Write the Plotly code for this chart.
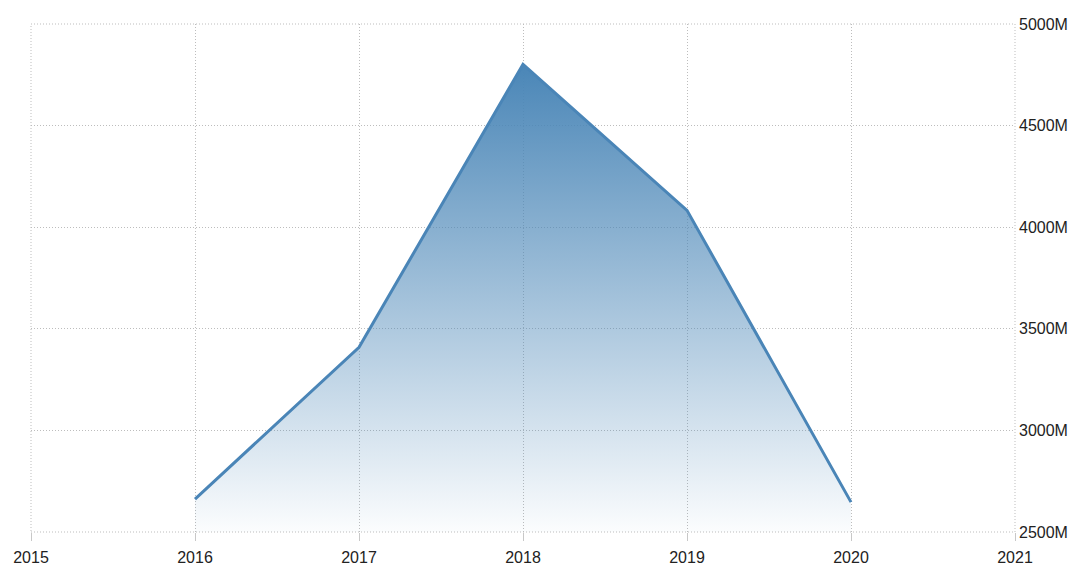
import plotly.graph_objects as go

years = [2016, 2017, 2018, 2019, 2020]
values = [2662, 3409, 4801, 4083, 2647]
baseline = [2500, 2500, 2500, 2500, 2500]
x_ticks = [2015, 2016, 2017, 2018, 2019, 2020, 2021]
y_ticks = [2500, 3000, 3500, 4000, 4500, 5000]
y_labels = [f"{v}M" for v in y_ticks]

font_family = "Liberation Sans Narrow, Arial Narrow, Liberation Sans, Arial, sans-serif"
grid_color = "#bdbdbd"
grid_dash = "1px,2px"

fig = go.Figure()
fig.add_trace(go.Scatter(x=years, y=baseline, mode="lines", line=dict(width=0),
                         hoverinfo="skip", showlegend=False))
fig.add_trace(go.Scatter(
    x=years, y=values, mode="lines", fill="tonexty",
    line=dict(color="#4a85b7", width=3),
    fillgradient=dict(type="vertical", start=2500, stop=4801,
                      colorscale=[[0, "rgba(74,134,183,0.02)"], [1, "rgba(74,134,183,1)"]]),
    showlegend=False))

# dotted frame on the plot edges (edge gridlines)
fig.add_shape(type="rect", xref="x domain", yref="y domain", x0=0, x1=1, y0=0, y1=1,
              line=dict(color=grid_color, width=1, dash=grid_dash), layer="below")

fig.update_layout(
    width=1062, height=559,
    margin=dict(l=23, r=55, t=16, b=35),
    paper_bgcolor="white", plot_bgcolor="white",
    font=dict(family=font_family, size=16, color="#222"),
    xaxis=dict(range=[2015, 2021], tickvals=x_ticks, ticktext=[str(v) for v in x_ticks],
               showgrid=True, gridcolor=grid_color, griddash=grid_dash, gridwidth=1,
               ticks="outside", ticklen=8, tickcolor="#c8c8c8", zeroline=False,
               showline=False, automargin=False, ticklabelstandoff=3),
    yaxis=dict(range=[2500, 5000], tickvals=y_ticks, ticktext=y_labels, side="right",
               showgrid=True, gridcolor=grid_color, griddash=grid_dash, gridwidth=1,
               zeroline=False, showline=False, ticks="", automargin=False,
               ticklabelstandoff=3),
)

fig.write_html("out.html")
